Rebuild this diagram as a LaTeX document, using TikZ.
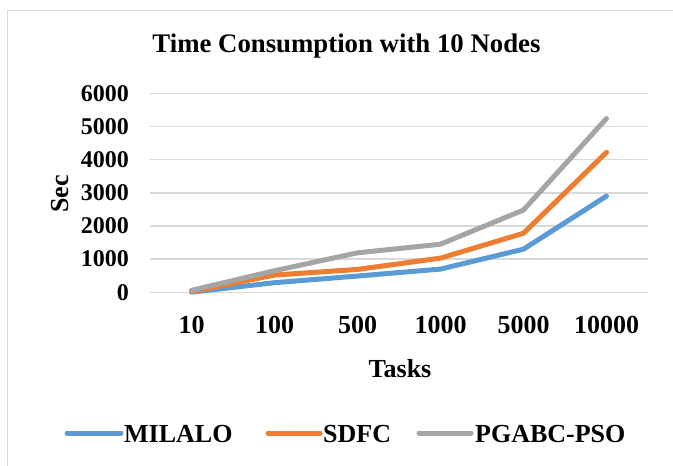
\documentclass[tikz,border=0pt]{standalone}
\usepackage{fontspec}
\setmainfont{Liberation Serif}
\definecolor{milaloblue}{HTML}{5B9BD5}
\definecolor{sdfcorange}{HTML}{ED7D31}
\definecolor{psogray}{HTML}{A5A5A5}
\definecolor{gridgray}{HTML}{D9D9D9}
\tikzset{
  txt/.style={inner sep=0pt, font=\fontsize{26}{30}\selectfont\bfseries},
  titletxt/.style={inner sep=0pt, font=\fontsize{26.8}{31}\selectfont\bfseries},
  ytick/.style={inner sep=0pt, anchor=east, font=\fontsize{24}{28}\selectfont\bfseries},
  gridline/.style={draw=gridgray, line width=1.5pt},
  series/.style={line width=5pt, line cap=round, line join=round},
  keyline/.style={line width=5pt, line cap=round},
}
\begin{document}
\begin{tikzpicture}[x=1pt, y=-1pt]
\useasboundingbox (0,0) rectangle (673,466);
% chart frame
\draw[gridgray, line width=1.3pt] (7.5,10.5) rectangle (690,490);
% title
\node[titletxt] (title) at (346.5,46) {Time Consumption with 10 Nodes};
% plot area: gridlines, value labels and series
\begin{scope}[shift={(150,292.3)}, x=83pt, y=0.03317pt]
  \foreach \v in {0,1000,...,6000} {
    \draw[gridline] (0,\v) -- (6,\v);
    \node[ytick] (y\v) at (-0.253,\v) {\v};
  }
  \draw[series, milaloblue] plot coordinates {(0.5,5) (1.5,290) (2.5,490) (3.5,700) (4.5,1300) (5.5,2900)};
  \draw[series, sdfcorange] plot coordinates {(0.5,20) (1.5,520) (2.5,690) (3.5,1030) (4.5,1780) (5.5,4220)};
  \draw[series, psogray] plot coordinates {(0.5,60) (1.5,650) (2.5,1190) (3.5,1450) (4.5,2480) (5.5,5240)};
\end{scope}
% category labels
\foreach \t [count=\i] in {10,100,500,1000,5000,10000}
  \node[txt] (x\t) at ({150+83*(\i-0.5)},325) {\t};
% axis titles
\node[txt] (xtitle) at (400,369) {Tasks};
\node[txt, rotate=90] (ytitle) at (60,194) {Sec};
% legend
\coordinate (k1a) at (67,433);  \coordinate (k1b) at (121,433);
\coordinate (k2a) at (268,433); \coordinate (k2b) at (320,433);
\coordinate (k3a) at (419,433); \coordinate (k3b) at (471,433);
\draw[keyline, milaloblue] (k1a) -- (k1b);
\draw[keyline, sdfcorange] (k2a) -- (k2b);
\draw[keyline, psogray] (k3a) -- (k3b);
\node[txt, anchor=west] (l1) at (124,434) {MILALO};
\node[txt, anchor=west] (l2) at (323,434) {SDFC};
\node[txt, anchor=west] (l3) at (475,434) {PGABC-PSO};
\end{tikzpicture}
\end{document}
